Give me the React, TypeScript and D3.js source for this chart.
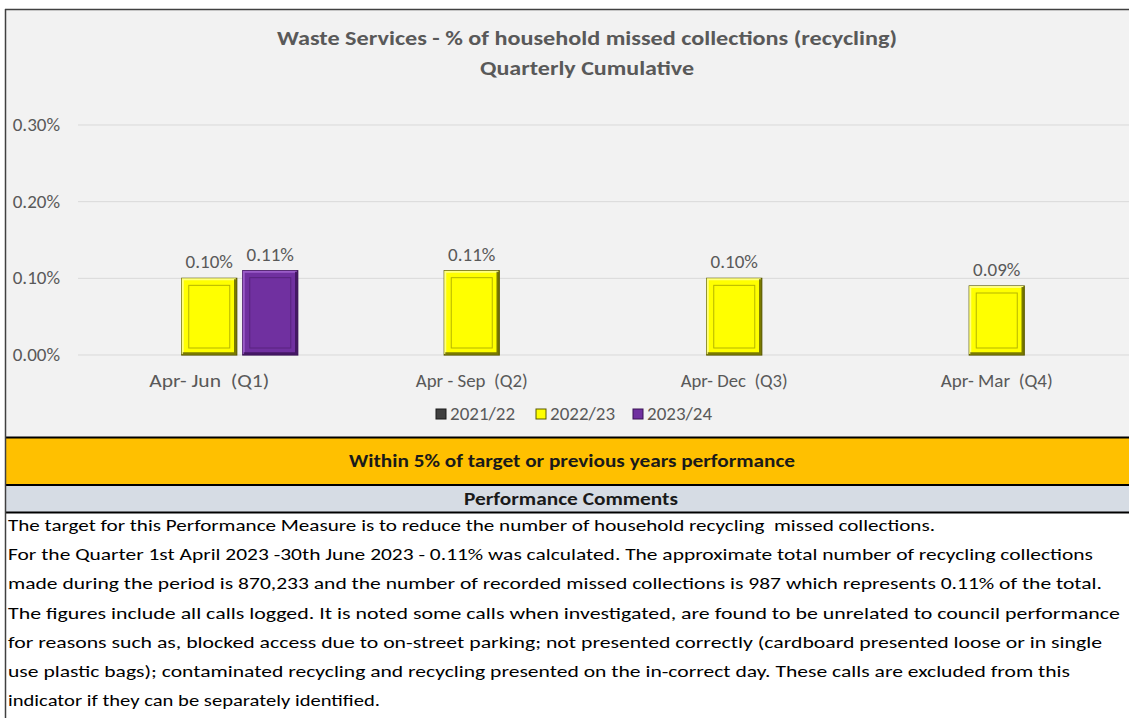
import React from "react";
import * as d3 from "d3";

// chart data
const quarters = ["Apr- Jun  (Q1)", "Apr - Sep  (Q2)", "Apr- Dec  (Q3)", "Apr- Mar  (Q4)"];
const quarterLabelWidths = [120, 112, 107, 112];
const seriesNames = ["2021/22", "2022/23", "2023/24"];
const values2021 = [null, null, null, null];
const values2022 = [0.1, 0.11, 0.1, 0.09];
const values2023 = [0.11, null, null, null];
const yTicks = [0, 0.1, 0.2, 0.3];

const statusText = "Within 5% of target or previous years performance";
const commentsTitle = "Performance Comments";
const commentLines = [
  "The target for this Performance Measure is to reduce the number of household recycling  missed collections.",
  "For the Quarter 1st April 2023 -30th June 2023 - 0.11% was calculated. The approximate total number of recycling collections",
  "made during the period is 870,233 and the number of recorded missed collections is 987 which represents 0.11% of the total.",
  "The figures include all calls logged. It is noted some calls when investigated, are found to be unrelated to council performance",
  "for reasons such as, blocked access due to on-street parking; not presented correctly (cardboard presented loose or in single",
  "use plastic bags); contaminated recycling and recycling presented on the in-correct day. These calls are excluded from this",
  "indicator if they can be separately identified.",
];
const commentWidths = [927, 1085, 1094, 1112, 1094, 1062, 372];

const colors = {
  "2021/22": { fill: "#404040", edge: "#1a1a1a", light: "#707070" },
  "2022/23": { fill: "#ffff00", edge: "#595900", light: "#ffff80" },
  "2023/24": { fill: "#7030a0", edge: "#3a1255", light: "#9a5cc8" },
};

const W = 1129;
const H = 718;
const font = "Calibri, Carlito, 'Open Sans', 'Noto Sans', sans-serif";
const grey = "#595959";

function Bar({ x, y, w, h, c }: any) {
  const ins = Math.min(7, w / 5, h / 5);
  return (
    <g>
      <rect x={x} y={y} width={w} height={h} fill={c.fill} stroke={c.edge} strokeWidth={1.2} />
      {/* bevel */}
      <path d={`M${x + 1},${y + h - 1} L${x + 1},${y + 1} L${x + w - 1},${y + 1}`} fill="none" stroke={c.light} strokeWidth={2} />
      <path d={`M${x + w - 1.5},${y + 1} L${x + w - 1.5},${y + h - 1.5} L${x + 1},${y + h - 1.5}`} fill="none" stroke={c.edge} strokeWidth={2.5} opacity={0.8} />
      <rect x={x + ins} y={y + ins} width={w - 2 * ins} height={h - 2 * ins} fill="none" stroke={c.edge} strokeOpacity={0.45} strokeWidth={1} />
    </g>
  );
}

export default function App() {
  const plotLeft = 78;
  const plotRight = 1128;
  const y = d3.scaleLinear().domain([0, 0.3]).range([355, 125]);
  const x = d3.scaleBand().domain(quarters).range([plotLeft, plotRight]);
  const xs = d3
    .scaleBand()
    .domain(seriesNames)
    .range([-88.5, 88.5])
    .paddingInner(6 / 61);

  const series = [
    { name: "2021/22", values: values2021 },
    { name: "2022/23", values: values2022 },
    { name: "2023/24", values: values2023 },
  ];

  const legendX = [436, 536, 633];

  return (
    <svg
      width={W}
      height={H}
      style={{ position: "absolute", left: 0, top: 0, background: "#ffffff" }}
      fontFamily={font}
    >
      {/* chart area */}
      <rect x={5} y={9} width={W - 5} height={428} fill="#f2f2f2" />
      <text x={587} y={45} textAnchor="middle" fontSize={20} fontWeight="bold" fill={grey} textLength={620} lengthAdjust="spacingAndGlyphs">
        Waste Services - % of household missed collections (recycling)
      </text>
      <text x={587} y={75} textAnchor="middle" fontSize={20} fontWeight="bold" fill={grey} textLength={214} lengthAdjust="spacingAndGlyphs">
        Quarterly Cumulative
      </text>

      {/* gridlines + y axis */}
      {yTicks.map((t) => (
        <g key={t}>
          <line x1={plotLeft} x2={W} y1={y(t)} y2={y(t)} stroke="#d9d9d9" strokeWidth={1} />
          <text x={60} y={y(t) + 6} textAnchor="end" fontSize={19} fill={grey}>
            {d3.format(".2f")(t) + "%"}
          </text>
        </g>
      ))}

      {/* bars */}
      {series.map((s) =>
        s.values.map((v, i) => {
          if (v == null) return null;
          const bx = (x(quarters[i]) as number) + x.bandwidth() / 2 + (xs(s.name) as number);
          const by = y(v);
          const c = (colors as any)[s.name];
          return (
            <g key={s.name + i}>
              <Bar x={bx} y={by} w={xs.bandwidth()} h={y(0) - by} c={c} />
              <text x={bx + xs.bandwidth() / 2} y={by - 10} textAnchor="middle" fontSize={19} fill={grey}>
                {d3.format(".2f")(v) + "%"}
              </text>
            </g>
          );
        })
      )}

      {/* x axis labels */}
      {quarters.map((q, i) => (
        <text
          key={q}
          x={(x(q) as number) + x.bandwidth() / 2}
          y={387}
          textAnchor="middle"
          fontSize={19}
          fill={grey}
          textLength={quarterLabelWidths[i]}
          lengthAdjust="spacingAndGlyphs"
          style={{ whiteSpace: "pre" }}
        >
          {q}
        </text>
      ))}

      {/* legend */}
      {seriesNames.map((n, i) => {
        const c = (colors as any)[n];
        return (
          <g key={n}>
            <rect x={legendX[i]} y={409} width={10} height={10} fill={c.fill} stroke={c.edge} strokeWidth={1} />
            <text x={legendX[i] + 14} y={420} fontSize={19} fill={grey}>
              {n}
            </text>
          </g>
        );
      })}

      {/* status band */}
      <rect x={5} y={437} width={W - 5} height={48} fill="#ffc000" />
      <line x1={5} x2={W} y1={437.5} y2={437.5} stroke="#000" strokeWidth={2} />
      <line x1={5} x2={W} y1={485} y2={485} stroke="#000" strokeWidth={2} />
      <text x={572} y={467} textAnchor="middle" fontSize={17} fontWeight="bold" fill="#1a1a1a" textLength={446} lengthAdjust="spacingAndGlyphs">
        {statusText}
      </text>

      {/* comments header */}
      <rect x={5} y={486} width={W - 5} height={26} fill="#d6dce4" />
      <line x1={5} x2={W} y1={512.5} y2={512.5} stroke="#000" strokeWidth={2} />
      <text x={571} y={505} textAnchor="middle" fontSize={17} fontWeight="bold" fill="#1a1a1a" textLength={214} lengthAdjust="spacingAndGlyphs">
        {commentsTitle}
      </text>

      {/* comments */}
      {commentLines.map((l, i) => (
        <text
          key={i}
          x={8}
          y={531 + i * 29.2}
          fontSize={17}
          fill="#000"
          textLength={commentWidths[i]}
          lengthAdjust="spacingAndGlyphs"
          style={{ whiteSpace: "pre" }}
        >
          {l}
        </text>
      ))}

      {/* outer border */}
      <line x1={5} x2={W} y1={9.5} y2={9.5} stroke="#404040" strokeWidth={1.5} />
      <line x1={5.5} x2={5.5} y1={9} y2={H} stroke="#404040" strokeWidth={1.5} />
    </svg>
  );
}
